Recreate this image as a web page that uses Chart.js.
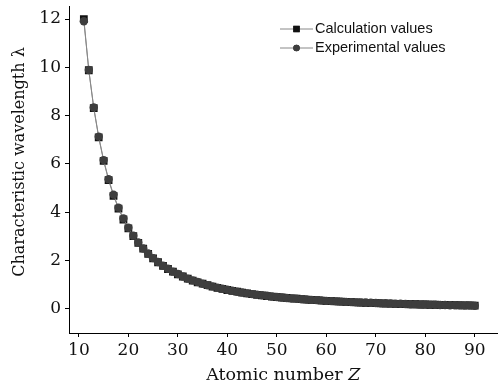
<!DOCTYPE html>
<html><head><meta charset="utf-8">
<script src="https://cdn.jsdelivr.net/npm/chart.js@4.4.1/dist/chart.umd.min.js"></script>
<style>html,body{margin:0;padding:0;background:#fff;}#wrap{width:503px;height:388px;}</style>
</head><body><div id="wrap"><canvas id="c" width="503" height="388"></canvas></div>
<script>
const atomicNumbers = [11,12,13,14,15,16,17,18,19,20,21,22,23,24,25,26,27,28,29,30,31,32,33,34,35,36,37,38,39,40,41,42,43,44,45,46,47,48,49,50,51,52,53,54,55,56,57,58,59,60,61,62,63,64,65,66,67,68,69,70,71,72,73,74,75,76,77,78,79,80,81,82,83,84,85,86,87,88,89,90];
const experimentalValues = [11.91,9.89,8.34,7.13,6.16,5.37,4.73,4.19,3.74,3.36,3.03,2.75,2.50,2.29,2.10,1.94,1.79,1.66,1.54,1.44,1.34,1.25,1.18,1.11,1.04,0.98,0.93,0.88,0.83,0.79,0.75,0.71,0.68,0.64,0.61,0.59,0.56,0.54,0.51,0.49,0.47,0.45,0.43,0.42,0.40,0.39,0.37,0.36,0.35,0.33,0.32,0.31,0.30,0.29,0.28,0.27,0.26,0.26,0.25,0.24,0.23,0.23,0.22,0.21,0.21,0.20,0.19,0.19,0.18,0.18,0.17,0.17,0.16,0.16,0.15,0.15,0.15,0.14,0.14,0.13];
const calculationValues = [12.00,9.88,8.31,7.10,6.13,5.33,4.68,4.15,3.70,3.33,3.01,2.73,2.49,2.28,2.09,1.93,1.78,1.65,1.54,1.43,1.34,1.25,1.17,1.10,1.04,0.98,0.92,0.87,0.83,0.78,0.74,0.71,0.67,0.64,0.61,0.58,0.56,0.53,0.51,0.49,0.47,0.45,0.43,0.42,0.40,0.38,0.37,0.36,0.34,0.33,0.32,0.31,0.30,0.29,0.28,0.27,0.26,0.25,0.25,0.24,0.23,0.22,0.22,0.21,0.20,0.20,0.19,0.19,0.18,0.18,0.17,0.17,0.16,0.16,0.15,0.15,0.14,0.14,0.14,0.13];
const xTickValues = [10,20,30,40,50,60,70,80,90];
const yTickValues = [0,2,4,6,8,10,12];
const seriesLabels = ['Calculation values','Experimental values'];
const xTitleParts = ['Atomic number ', 'Z'];
const yTitle = 'Characteristic wavelength λ';

const serif = "'DejaVu Serif', serif";
const annotPlugin = {
  id: 'annot',
  afterDraw(chart) {
    const ctx = chart.ctx;
    const x0 = 280, y0 = 29, dy = 19;
    ctx.save();
    [0,1].forEach((di, k) => {
      const ds = chart.data.datasets[di];
      const y = y0 + k*dy;
      ctx.strokeStyle = '#888'; ctx.lineWidth = 1;
      ctx.beginPath(); ctx.moveTo(x0, y); ctx.lineTo(x0+33, y); ctx.stroke();
      Chart.helpers.drawPoint(ctx, {pointStyle: ds.pointStyle, radius: ds.legendRadius, borderWidth: 0}, x0+16.5, y);
      ctx.fillStyle = ds.pointBackgroundColor;
      ctx.fill();
      ctx.fillStyle = '#111';
      ctx.font = "14.5px 'Liberation Sans', Arial, sans-serif";
      ctx.textBaseline = 'middle'; ctx.textAlign = 'left';
      ctx.fillText(ds.label, x0+35, y);
    });
    // x title with italic Z
    const ca = chart.chartArea;
    const normalFont = "17.5px " + serif, italicFont = "italic 17.5px " + serif;
    ctx.font = normalFont; const w1 = ctx.measureText(xTitleParts[0]).width;
    ctx.font = italicFont; const w2 = ctx.measureText(xTitleParts[1]).width;
    let xs = (ca.left + ca.right)/2 - (w1+w2)/2;
    ctx.fillStyle = '#111'; ctx.textBaseline = 'middle'; ctx.textAlign = 'left';
    ctx.font = normalFont; ctx.fillText(xTitleParts[0], xs, 375);
    ctx.font = italicFont; ctx.fillText(xTitleParts[1], xs + w1, 375);
    // y title
    ctx.translate(20, 162);
    ctx.rotate(-Math.PI/2);
    ctx.font = "16px " + serif;
    ctx.textAlign = 'center'; ctx.textBaseline = 'middle';
    ctx.fillText(yTitle, 0, 0);
    ctx.restore();
  }
};

new Chart(document.getElementById('c'), {
  type: 'line',
  data: {
    datasets: [
      { label: seriesLabels[0], data: atomicNumbers.map((z,i)=>({x:z,y:calculationValues[i]})),
        pointStyle: 'rect', pointRadius: 5.5, legendRadius: 4.5, pointBackgroundColor: '#111', pointBorderWidth: 0,
        borderColor: '#888', borderWidth: 1, order: 1 },
      { label: seriesLabels[1], data: atomicNumbers.map((z,i)=>({x:z,y:experimentalValues[i]})),
        pointStyle: 'circle', pointRadius: 4.2, legendRadius: 3.2, pointBackgroundColor: '#3e3e3e', pointBorderWidth: 0,
        borderColor: '#888', borderWidth: 1, order: 0 }
    ]
  },
  options: {
    responsive: false, animation: false,
    layout: { padding: { top: 6, right: 0, left: 0, bottom: 0 } },
    plugins: { legend: { display: false }, tooltip: { enabled: false } },
    scales: {
      x: {
        type: 'linear', min: 8, max: 94.6,
        afterBuildTicks: s => { s.ticks = xTickValues.map(v=>({value:v})); },
        afterFit: s => { s.height = 55; s.paddingRight = 0; },
        border: { display: true, color: '#000', width: 1 },
        grid: { display: true, drawOnChartArea: false, tickLength: 4, color: '#000' },
        ticks: { color: '#111', font: { family: serif, size: 17 }, padding: 3, maxRotation: 0 },
        title: { display: false }
      },
      y: {
        type: 'linear', min: -1, max: 12.54,
        afterBuildTicks: s => { s.ticks = yTickValues.map(v=>({value:v})); },
        afterFit: s => { s.width = 69; s.paddingTop = 0; s.paddingBottom = 0; },
        border: { display: true, color: '#000', width: 1 },
        grid: { display: true, drawOnChartArea: false, tickLength: 4, color: '#000' },
        ticks: { color: '#111', font: { family: serif, size: 17 }, padding: 4 },
        title: { display: false }
      }
    }
  },
  plugins: [annotPlugin]
});
</script></body></html>
